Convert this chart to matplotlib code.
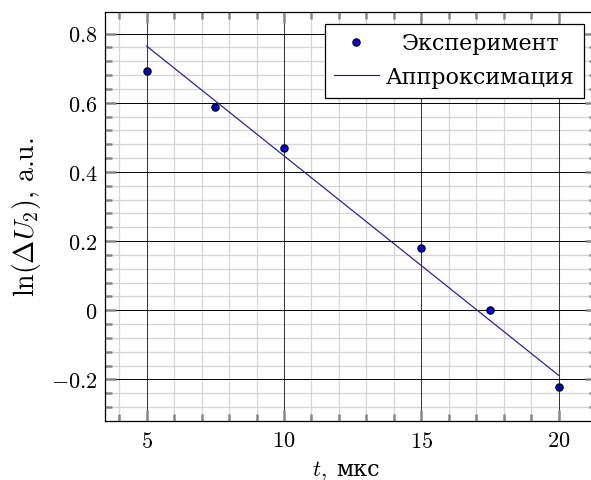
import matplotlib
matplotlib.use("Agg")
import matplotlib.pyplot as plt

plt.rcParams['font.family'] = ['cmr10', 'DejaVu Serif']
plt.rcParams['mathtext.fontset'] = 'cm'
plt.rcParams['axes.unicode_minus'] = False
plt.rcParams['font.size'] = 16

# data
t_exp = [5, 7.5, 10, 15, 17.5, 20]
lnU_exp = [0.692, 0.588, 0.470, 0.181, 0.0, -0.223]
t_fit = [5, 20]
lnU_fit = [0.764, -0.188]

x_major = [5, 10, 15, 20]
x_labels = ['$5$', '$10$', '$15$', '$20$']
x_minor = [4, 6, 7, 8, 9, 11, 12, 13, 14, 16, 17, 18, 19]
y_major = [-0.2, 0, 0.2, 0.4, 0.6, 0.8]
y_labels = ['$-0.2$', '$0$', '$0.2$', '$0.4$', '$0.6$', '$0.8$']
y_minor = [-0.28, -0.24, -0.16, -0.12, -0.08, -0.04, 0.04, 0.08, 0.12, 0.16,
           0.24, 0.28, 0.32, 0.36, 0.44, 0.48, 0.52, 0.56, 0.64, 0.68, 0.72, 0.76]

fig = plt.figure(figsize=(5.91, 4.81), dpi=100)
ax = fig.add_axes([105/591, 59/481, 491/591, 409/481])

ax.set_xlim(3.482, 21.36)
ax.set_ylim(-0.32, 0.8626)

ax.set_xticks(x_major, x_labels)
ax.set_xticks(x_minor, minor=True)
ax.set_yticks(y_major, y_labels)
ax.set_yticks(y_minor, minor=True)

# grid drawn by hand so the major lines sit on top of all minor ones
for v in x_minor:
    ax.axvline(v, color='#d4d4d4', lw=0.9, zorder=0.1)
for h in y_minor:
    ax.axhline(h, color='#d4d4d4', lw=0.9, zorder=0.1)
for v in x_major:
    ax.axvline(v, color='#3a3a3a', lw=0.75, zorder=0.2)
for h in y_major:
    ax.axhline(h, color='black', lw=0.7, zorder=0.2)
ax.set_axisbelow(True)

ax.tick_params(which='both', direction='in', top=True, right=True, color='#888888')
ax.tick_params(which='major', length=8, width=1.8)
ax.tick_params(which='minor', length=5, width=1.8)
ax.tick_params(axis='x', which='major', pad=7)
ax.tick_params(axis='y', which='major', pad=5.5)
for s in ax.spines.values():
    s.set_linewidth(0.9)

h_fit, = ax.plot(t_fit, lnU_fit, color='#1c1c9c', lw=0.85, label='Аппроксимация', zorder=4)
h_exp, = ax.plot(t_exp, lnU_exp, 'o', ls='none', ms=5.2, mfc='#0000e0', mec='black',
                 mew=0.9, label='Эксперимент', zorder=5)

ax.set_ylabel(r'$\ln(\Delta U_2)$, a.u.', fontsize=20)
ax.yaxis.set_label_coords(-0.126, 0.5)

# x label in two parts: mathtext has no cyrillic glyphs
xl_t = fig.text(0, 5/481, '$t$,', fontsize=16, va='baseline')
xl_u = fig.text(0, 5/481, 'мкс', fontsize=16, va='baseline')

leg = ax.legend(handles=[h_exp, h_fit], loc='upper right', bbox_to_anchor=(0.9756, 0.9707),
                borderaxespad=0, fancybox=False, framealpha=1, edgecolor='black',
                numpoints=1, handlelength=2.03, handletextpad=0.32, borderpad=0.42,
                labelspacing=0.58, fontsize=16)
leg.get_frame().set_linewidth(0.9)
leg.set_zorder(6)

fig.canvas.draw()
r = fig.canvas.get_renderer()

# centre the legend texts like pgfplots does
w = [t.get_window_extent(r).width for t in leg.get_texts()]
rows = leg._legend_handle_box.get_children()[0].get_children()
rows[0].sep += (w[1] - w[0]) / 2 * 72 / fig.dpi

w1 = xl_t.get_window_extent(r).width
w2 = xl_u.get_window_extent(r).width
gap = 9
x0 = 346 - (w1 + gap + w2) / 2
xl_t.set_x(x0 / 591)
xl_u.set_x((x0 + w1 + gap) / 591)

fig.savefig('out.png', dpi=100)
